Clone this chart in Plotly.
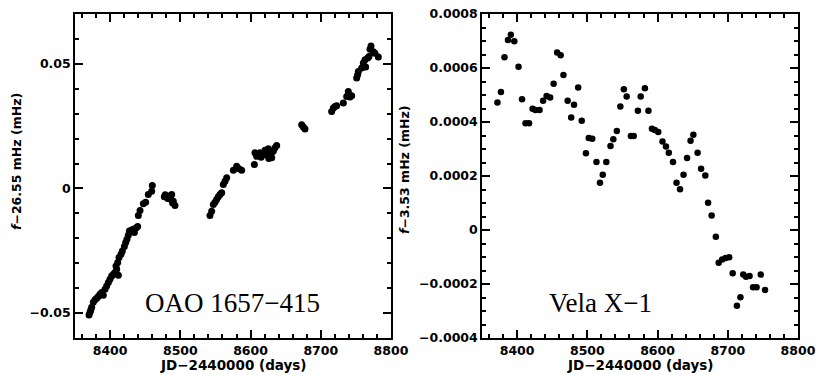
import plotly.graph_objects as go

# ---------------- data ----------------
oao_day = [8370, 8371.4, 8372.5, 8373.7, 8376.1, 8378.5, 8380.9, 8383.2, 8385.6, 8388, 8390.3,
           8392.7, 8395.1, 8397.5, 8399.8, 8402.2, 8404.6, 8407, 8408.4, 8409.3, 8410.8, 8411.7,
           8412.7, 8415.5, 8417.4, 8420.3, 8422.2, 8424, 8425.9, 8427.4, 8430.7, 8433.1, 8434.5,
           8436.9, 8439.2, 8440.2, 8442.6, 8447.3, 8450.6, 8454.4, 8459.2, 8460.1,
           8477.2, 8478.5, 8480.5, 8482, 8483.9, 8485, 8486.7, 8487.7, 8489, 8490, 8492.4,
           8542.2, 8544.6, 8547, 8549.4, 8551.7, 8554.1, 8556.5, 8558.9, 8561.2, 8563.6, 8566,
           8575.5, 8580.2, 8583.5, 8587.3,
           8605.4, 8606.3, 8608.7, 8613.4, 8615, 8618.2, 8620, 8620.6, 8622.9, 8625.3, 8626,
           8627.7, 8629, 8630.1, 8632.4, 8634.8, 8637.2,
           8672.8, 8675.2, 8677.5,
           8715.5, 8717.9, 8720.2, 8722.6, 8732.1, 8736.9, 8739.2, 8741.6, 8744,
           8751.1, 8752.5, 8753.5, 8758.2, 8760.6, 8763, 8763.9, 8766.8, 8768.7, 8770.1,
           8771.5, 8774.8, 8777.2, 8782]
oao_freq = [-0.0508, -0.0497, -0.0488, -0.0477, -0.0457, -0.0447, -0.0441, -0.0433, -0.0424, -0.0417, -0.0428,
            -0.0404, -0.0391, -0.0377, -0.0364, -0.0351, -0.0344, -0.0337, -0.0311, -0.0324, -0.0297, -0.0348,
            -0.0277, -0.0264, -0.0251, -0.0233, -0.0217, -0.0204, -0.0188, -0.0171, -0.0167, -0.0164, -0.0177,
            -0.0159, -0.0153, -0.0108, -0.0088, -0.0061, -0.0055, -0.0024, -0.0011, 0.0012,
            -0.0033, -0.0025, -0.0031, -0.0040, -0.0037, -0.0030, -0.0044, -0.0024, -0.0058, -0.0051, -0.0068,
            -0.0108, -0.0091, -0.0064, -0.0055, -0.0044, -0.0033, -0.0024, -0.0017, 0.0016, 0.0029, 0.0043,
            0.0073, 0.0089, 0.0079, 0.0073,
            0.0096, 0.0143, 0.0129, 0.0143, 0.0125, 0.0140, 0.0135, 0.0153, 0.0149, 0.0159, 0.0120,
            0.0129, 0.0135, 0.0123, 0.0149, 0.0163, 0.0172,
            0.0256, 0.0247, 0.0239,
            0.0309, 0.0323, 0.0329, 0.0332, 0.0343, 0.0369, 0.0389, 0.0367, 0.0372,
            0.0443, 0.0456, 0.0469, 0.0483, 0.0503, 0.0516, 0.0487, 0.0523, 0.0529, 0.0559,
            0.0572, 0.0549, 0.0543, 0.0527]

vela_day = [8372, 8377, 8382, 8387, 8391, 8396, 8402, 8407, 8412, 8417, 8422, 8426, 8432, 8437,
            8442, 8447, 8452, 8457, 8462, 8466, 8472, 8477, 8481, 8487, 8492, 8498, 8502, 8507,
            8513, 8518, 8522, 8527, 8533, 8537, 8542, 8547, 8552, 8556, 8562, 8566, 8572, 8576,
            8582, 8587, 8592, 8596, 8601, 8607, 8612, 8616, 8622, 8627, 8632, 8637, 8642, 8647,
            8651, 8657, 8662, 8668, 8672, 8677, 8683, 8687, 8692, 8697, 8702, 8707, 8713, 8718,
            8722, 8726, 8731, 8736, 8741, 8747, 8753]
vela_freq = [0.000472, 0.000511, 0.000640, 0.000704, 0.000723, 0.000699, 0.000605, 0.000484,
             0.000395, 0.000395, 0.000449, 0.000444, 0.000444, 0.000479, 0.000496, 0.000491,
             0.000542, 0.000657, 0.000647, 0.000574, 0.000479, 0.000417, 0.000464, 0.000528,
             0.000405, 0.000284, 0.000341, 0.000338, 0.000252, 0.000175, 0.000205, 0.000252,
             0.000311, 0.000336, 0.000367, 0.000457, 0.000521, 0.000494, 0.000348, 0.000348,
             0.000442, 0.000494, 0.000525, 0.000442, 0.000375, 0.000370, 0.000363, 0.000328,
             0.000309, 0.000286, 0.000252, 0.000175, 0.000151, 0.000205, 0.000267, 0.000331,
             0.000353, 0.000286, 0.000227, 0.000202, 0.000101, 0.000054, -0.000025, -0.000121,
             -0.000109, -0.000104, -0.000101, -0.000160, -0.000281, -0.000249, -0.000165,
             -0.000173, -0.000170, -0.000212, -0.000212, -0.000165, -0.000222]

x_range = [8350, 8800]
oao_range = [-0.06, 0.07]
vela_range = [-0.00040001, 0.00080001]

x_tickvals = [8400, 8500, 8600, 8700, 8800]
oao_tickvals = [-0.05, 0, 0.05]
oao_ticktext = ["\u22120.05", "0", "0.05"]
vela_tickvals = [-0.0004, -0.0002, 0, 0.0002, 0.0004, 0.0006, 0.0008]
vela_ticktext = ["\u22120.0004", "\u22120.0002", "0", "0.0002", "0.0004", "0.0006", "0.0008"]

# ---------------- figure ----------------
fig = go.Figure()
fig.add_trace(go.Scatter(x=oao_day, y=oao_freq, mode="markers", xaxis="x", yaxis="y",
                         marker=dict(color="black", size=7), showlegend=False))
fig.add_trace(go.Scatter(x=vela_day, y=vela_freq, mode="markers", xaxis="x2", yaxis="y2",
                         marker=dict(color="black", size=6.5), showlegend=False))

tickfont = dict(family="DejaVu Sans", size=12.5, color="black", weight="bold")


def axis_style(minor_dtick, minor_tick0=0):
    return dict(showline=True, linecolor="black", linewidth=1.5, mirror="allticks",
                tickmode="array", ticks="inside", ticklen=8, tickwidth=2, tickcolor="black",
                showgrid=False, zeroline=False, tickfont=tickfont, automargin=False,
                minor=dict(ticks="inside", ticklen=4, tickwidth=1.5, tickcolor="black",
                           tickmode="linear", dtick=minor_dtick, tick0=minor_tick0,
                           showgrid=False))


W, H = 817, 375
ml, mr, mt, mb = 75, 817 - 798, 14, 375 - 338
pw = W - ml - mr
ph = H - mt - mb
d1 = [0, (391 - ml) / pw]
d2 = [(482 - ml) / pw, 1]

fig.update_layout(
    width=W, height=H, margin=dict(l=ml, r=mr, t=mt, b=mb, autoexpand=False),
    paper_bgcolor="white", plot_bgcolor="white",
    xaxis=dict(domain=d1, range=x_range, anchor="y", tickvals=x_tickvals,
               **axis_style(20, 8400)),
    yaxis=dict(range=oao_range, anchor="x", tickvals=oao_tickvals, ticktext=oao_ticktext,
               **axis_style(0.01)),
    xaxis2=dict(domain=d2, range=x_range, anchor="y2", tickvals=x_tickvals,
                **axis_style(20, 8400)),
    yaxis2=dict(range=vela_range, anchor="x2", tickvals=vela_tickvals, ticktext=vela_ticktext,
                **axis_style(0.00005)),
)


def py(sy):
    return 1 - (sy - mt) / ph


def pxr(sx):
    return (sx - ml) / pw


title_font = dict(family="DejaVu Sans", size=13.5, color="black", weight="bold")
ytitle_font = dict(family="DejaVu Sans", size=12.5, color="black", weight="bold")
label_font = dict(family="Liberation Serif", size=27, color="black")

annotations = [
    dict(text="JD\u22122440000 (days)", x=pxr(233), y=py(365), font=title_font),
    dict(text="JD\u22122440000 (days)", x=pxr(640), y=py(365), font=title_font),
    dict(text="<i>f</i>\u221226.55 mHz (mHz)", x=pxr(16), y=py(162), textangle=-90, font=ytitle_font),
    dict(text="<i>f</i>\u22123.53 mHz (mHz)", x=pxr(405), y=py(170), textangle=-90, font=ytitle_font),
    dict(text="OAO 1657\u2212415", x=pxr(232), y=py(303), font=label_font),
    dict(text="Vela X\u22121", x=pxr(600), y=py(303), font=label_font),
]
for a in annotations:
    a.update(xref="paper", yref="paper", showarrow=False, xanchor="center", yanchor="middle")
fig.update_layout(annotations=annotations)

fig.write_html("out.html", config={"displayModeBar": False},
               post_script="document.body.style.margin='0';")
